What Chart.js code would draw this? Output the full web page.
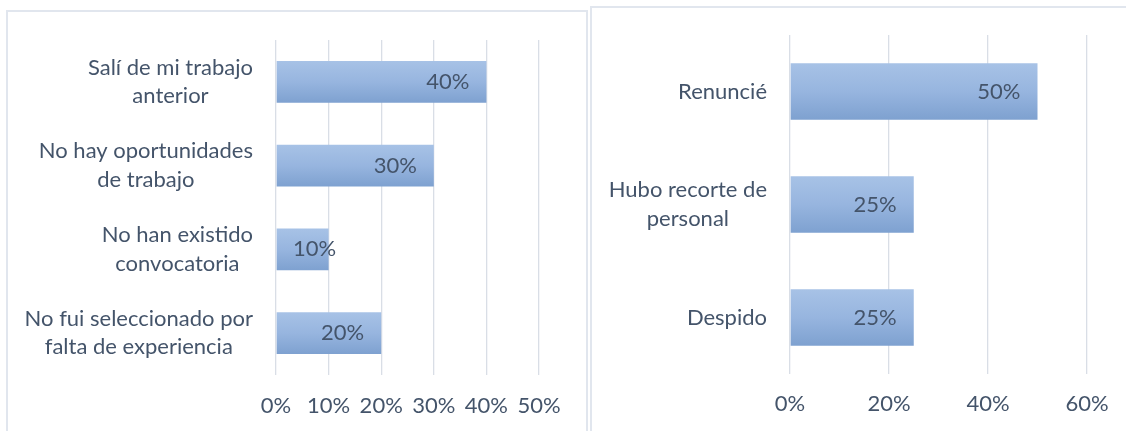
<!DOCTYPE html>
<html>
<head>
<meta charset="utf-8">
<script src="https://cdn.jsdelivr.net/npm/chart.js@4/dist/chart.umd.min.js"></script>
<style>
  html, body { margin: 0; padding: 0; background: #ffffff; }
  body { width: 1126px; height: 431px; position: relative; overflow: hidden; }
  .box { position: absolute; box-sizing: content-box; border: 2px solid #e1e6ee; background: #fff; }
  #boxL { left: 6px; top: 10px; width: 578px; height: 430px; }
  #boxR { left: 590px; top: 6px; width: 560px; height: 440px; }
  canvas { display: block; }
</style>
</head>
<body>
<div class="box" id="boxL"><canvas id="cL" width="578" height="419"></canvas></div>
<div class="box" id="boxR"><canvas id="cR" width="534" height="423"></canvas></div>
<script>
// ---- data ----
const leftCategories = [
  ['Salí de mi trabajo', 'anterior'],
  ['No hay oportunidades', 'de trabajo'],
  ['No han existido', 'convocatoria'],
  ['No fui seleccionado por', 'falta de experiencia']
];
const leftValues = [0.40, 0.30, 0.10, 0.20];
const leftTicks = [0, 0.1, 0.2, 0.3, 0.4, 0.5];

const rightCategories = [
  ['Renuncié'],
  ['Hubo recorte de', 'personal'],
  ['Despido']
];
const rightValues = [0.50, 0.25, 0.25];
const rightTicks = [0, 0.2, 0.4, 0.6];

// ---- style ----
const FONT = 'Lato, "Open Sans", sans-serif';
const FSIZE = 22;
const TEXT = '#44546a';
const GRID = '#d9dee6';
const pct = v => Math.round(v * 100) + '%';

const barStyle = {
  id: 'barStyle',
  beforeDatasetsDraw(chart) {
    const ctx = chart.ctx;
    chart.getDatasetMeta(0).data.forEach(el => {
      const top = el.y - el.height / 2, bot = el.y + el.height / 2;
      const g = ctx.createLinearGradient(0, top, 0, bot);
      g.addColorStop(0, '#a7c2e6');
      g.addColorStop(0.5, '#97b5df');
      g.addColorStop(1, '#7ea1d0');
      el.options = Object.assign({}, el.options, { backgroundColor: g });
    });
  }
};

const catLabels = {
  id: 'catLabels',
  afterDraw(chart, args, opts) {
    const ctx = chart.ctx;
    const ys = chart.scales.y;
    const right = chart.chartArea.left - 23;
    ctx.save();
    ctx.font = FSIZE + 'px ' + FONT;
    ctx.fillStyle = TEXT;
    ctx.textAlign = 'center';
    ctx.textBaseline = 'middle';
    opts.labels.forEach((lines, i) => {
      const y = ys.getPixelForValue(i);
      const w = Math.max(...lines.map(l => ctx.measureText(l).width));
      const cx = right - w / 2;
      lines.forEach((l, j) => {
        ctx.fillText(l, cx, y + (j - (lines.length - 1) / 2) * 28.5);
      });
    });
    // data labels (inside end)
    const meta = chart.getDatasetMeta(0);
    const vals = chart.data.datasets[0].data;
    ctx.textAlign = 'left';
    meta.data.forEach((el, i) => {
      const txt = pct(vals[i]);
      const tw = ctx.measureText(txt).width;
      const start = chart.scales.x.getPixelForValue(0);
      let rx = Math.max(el.x - 17, start + 17 + tw);
      ctx.fillText(txt, rx - tw, el.y);
    });
    ctx.restore();
  }
};

function makeChart(id, cats, vals, ticks, max, layout) {
  return new Chart(document.getElementById(id), {
    type: 'bar',
    data: {
      labels: cats.map(c => c.join(' ')),
      datasets: [{ data: vals, backgroundColor: c => '#93b3de', borderWidth: 0,
                   barPercentage: 0.5, categoryPercentage: 1.0 }]
    },
    options: {
      indexAxis: 'y',
      responsive: false,
      animation: false,
      events: [],
      layout: { padding: { top: layout.top, right: layout.right, left: 0, bottom: 0 } },
      plugins: { legend: { display: false }, tooltip: { enabled: false },
                 catLabels: { labels: cats } },
      scales: {
        x: {
          min: 0, max: max,
          afterBuildTicks: s => { s.ticks = ticks.map(v => ({ value: v })); },
          afterFit: s => { s.height = layout.xh; },
          grid: { color: GRID, lineWidth: 1.3, drawTicks: false },
          border: { display: false },
          ticks: { padding: layout.tp, color: TEXT, font: { family: FONT, size: FSIZE },
                   callback: v => pct(v), maxRotation: 0, autoSkip: false }
        },
        y: {
          afterFit: s => { s.width = layout.yw; },
          grid: { display: false },
          border: { display: false },
          ticks: { display: false }
        }
      }
    },
    plugins: [barStyle, catLabels]
  });
}

makeChart('cL', leftCategories, leftValues, leftTicks, 0.5,
  { top: 28, right: 47, xh: 56, yw: 268, tp: 18 });
makeChart('cR', rightCategories, rightValues, rightTicks, 0.6,
  { top: 27, right: 39, xh: 57, yw: 198, tp: 17 });
</script>
</body>
</html>
